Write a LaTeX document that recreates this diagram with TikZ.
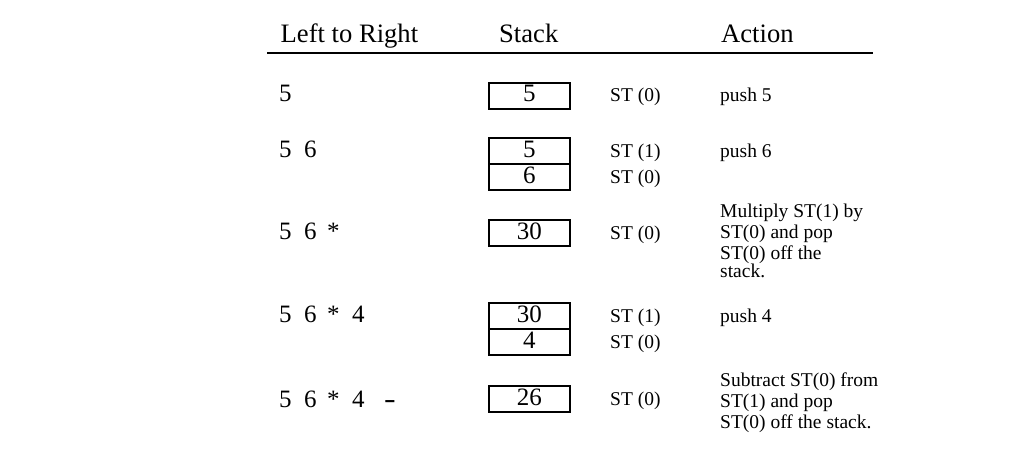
\documentclass[tikz,border=0pt]{standalone}
\usepackage{fontspec}
\setmainfont{Liberation Serif}
\usetikzlibrary{positioning}
\newcommand\etok[2]{\makebox[#1pt][l]{#2}}
\tikzset{
  hdr/.style={font=\fontsize{26.6}{30}\selectfont, inner sep=0pt, anchor=base west},
  expr/.style={font=\fontsize{25}{30}\selectfont, inner sep=0pt, anchor=base west},
  cell/.style={draw, line width=2pt, minimum width=81.5pt, minimum height=26pt,
    inner sep=0pt, outer sep=0pt, text height=17pt, text depth=5pt,
    font=\fontsize{25}{30}\selectfont},
  reg/.style={font=\fontsize{19.5}{21}\selectfont, inner sep=0pt, anchor=base west},
  rulestyle/.style={line width=2pt}
}
\begin{document}
\begin{tikzpicture}[x=1pt,y=-1pt]
\useasboundingbox (0,0) rectangle (1024,452);
% columns
\coordinate (colL) at (279,0);
\coordinate (colS) at (529,0);
\coordinate (colT) at (610,0);
\coordinate (colA) at (720,0);
% header
\node[hdr] (hL) at (280.5,42) {Left to Right};
\node[hdr] (hS) at (499,42) {Stack};
\node[hdr] (hA) at (721,42) {Action};
\coordinate (ruleL) at (267,53.5);
\coordinate (ruleR) at (873,53.5);
\draw[rulestyle] (ruleL) -- (ruleR);

% row 1
\node[cell] (b1) at (529.25,95.5) {5};
\node[expr] (e1) at (colL |- b1.base) {5};
\node[reg] (t1) at (colT |- b1.base) {ST (0)};
\node[reg] (a1) at (colA |- b1.base) {push 5};

% row 2
\node[cell] (b2a) at (529.25,151) {5};
\node[cell, below=0pt of b2a] (b2b) {6};
\node[expr] (e2) at (colL |- b2a.base) {\etok{25}{5}6};
\node[reg] (t2a) at (colT |- b2a.base) {ST (1)};
\node[reg] (t2b) at (colT |- b2b.base) {ST (0)};
\node[reg] (a2) at (colA |- b2a.base) {push 6};

% row 3
\node[cell] (b3) at (529.25,233.3) {30};
\node[expr] (e3) at (colL |- b3.base) {\etok{25}{5}\etok{23}{6}*};
\node[reg] (t3) at (colT |- b3.base) {ST (0)};
\node[reg] (a3) at (colA |- 0,217) {\begin{tabular}[t]{@{}l@{}}Multiply ST(1) by\\ST(0) and pop\\ST(0) off the\\[-3pt]stack.\end{tabular}};

% row 4
\node[cell] (b4a) at (529.25,316) {30};
\node[cell, below=0pt of b4a] (b4b) {4};
\node[expr] (e4) at (colL |- b4a.base) {\etok{25}{5}\etok{23}{6}\etok{25}{*}4};
\node[reg] (t4a) at (colT |- b4a.base) {ST (1)};
\node[reg] (t4b) at (colT |- b4b.base) {ST (0)};
\node[reg] (a4) at (colA |- b4a.base) {push 4};

% row 5
\node[cell] (b5) at (529.25,399) {26};
\node[expr] (e5) at (colL |- 0,407) {\etok{25}{5}\etok{23}{6}\etok{25}{*}\etok{32}{4}\scalebox{1.4}[1]{\textbf{-}}};
\node[reg] (t5) at (colT |- b5.base) {ST (0)};
\node[reg] (a5) at (colA |- 0,386) {\begin{tabular}[t]{@{}l@{}}Subtract ST(0) from\\ST(1) and pop\\ST(0) off the stack.\end{tabular}};
\end{tikzpicture}
\end{document}
